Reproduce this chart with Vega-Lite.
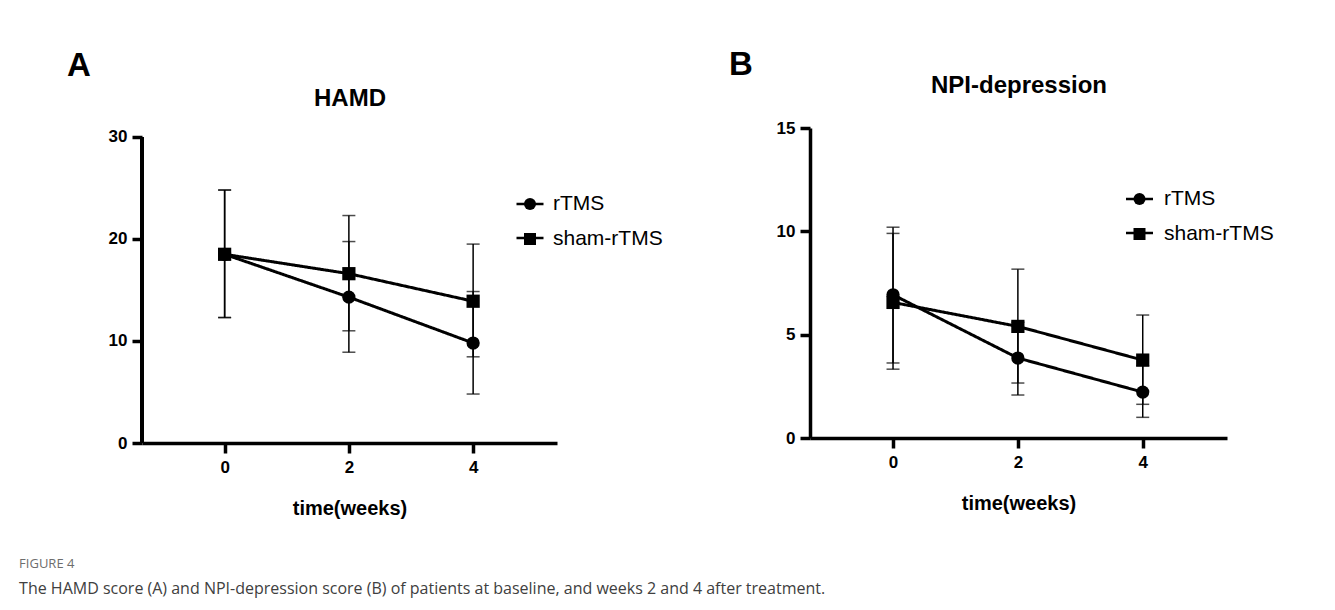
{
  "$schema": "https://vega.github.io/schema/vega-lite/v6.json",
  "padding": {"left": 19, "top": 49, "right": 5, "bottom": 5},
  "background": "white",
  "data": {
    "values": [
      {"panel": "HAMD", "group": "rTMS", "week": 0, "mean": 18.5, "lower": 12.3, "upper": 24.8},
      {"panel": "HAMD", "group": "rTMS", "week": 2, "mean": 14.3, "lower": 8.9, "upper": 19.75},
      {"panel": "HAMD", "group": "rTMS", "week": 4, "mean": 9.8, "lower": 4.8, "upper": 14.85},
      {"panel": "HAMD", "group": "sham-rTMS", "week": 0, "mean": 18.5, "lower": 12.3, "upper": 24.8},
      {"panel": "HAMD", "group": "sham-rTMS", "week": 2, "mean": 16.6, "lower": 11.0, "upper": 22.3},
      {"panel": "HAMD", "group": "sham-rTMS", "week": 4, "mean": 13.9, "lower": 8.45, "upper": 19.5},
      {"panel": "NPI", "group": "rTMS", "week": 0, "mean": 6.93, "lower": 3.63, "upper": 10.2},
      {"panel": "NPI", "group": "rTMS", "week": 2, "mean": 3.87, "lower": 2.08, "upper": 5.6},
      {"panel": "NPI", "group": "rTMS", "week": 4, "mean": 2.22, "lower": 1.0, "upper": 3.5},
      {"panel": "NPI", "group": "sham-rTMS", "week": 0, "mean": 6.56, "lower": 3.33, "upper": 9.9},
      {"panel": "NPI", "group": "sham-rTMS", "week": 2, "mean": 5.4, "lower": 2.66, "upper": 8.17},
      {"panel": "NPI", "group": "sham-rTMS", "week": 4, "mean": 3.77, "lower": 1.63, "upper": 5.95}
    ]
  },
  "title": {
    "text": "FIGURE 4",
    "subtitle": "The HAMD score (A) and NPI-depression score (B) of patients at baseline, and weeks 2 and 4 after treatment.",
    "orient": "bottom",
    "anchor": "start",
    "frame": "bounds",
    "dx": -48,
    "offset": 40,
    "font": "Open Sans",
    "fontSize": 13,
    "fontWeight": "normal",
    "color": "#6d6d6d",
    "subtitleFont": "Open Sans",
    "subtitleFontSize": 16,
    "subtitleColor": "#404040",
    "subtitlePadding": 10
  },
  "spacing": 65,
  "resolve": {"scale": {"shape": "independent", "strokeDash": "independent"}, "legend": {"shape": "independent", "strokeDash": "independent"}},
  "hconcat": [
    {
      "title": {"text": "A", "anchor": "start", "frame": "bounds", "font": "Liberation Sans", "fontSize": 33, "fontWeight": "bold", "color": "black", "baseline": "alphabetic", "dx": -41, "offset": -23.2},
      "width": 415,
      "height": 315,
      "transform": [{"filter": "datum.panel === 'HAMD'"}],
      "encoding": {
        "x": {"field": "week", "type": "quantitative", "scale": {"domain": [-1.33, 5.35], "nice": false, "zero": false}, "axis": {"values": [0, 2, 4], "title": "time(weeks)", "labelFlush": false}}
      },
      "layer": [
        {
          "mark": {"type": "rule", "color": "black", "strokeWidth": 3.5},
          "encoding": {
            "x": {"datum": -1.33, "type": "quantitative"},
            "y": {"datum": 0, "type": "quantitative", "scale": {"domain": [0, 30.882], "nice": false}, "axis": {"values": [0, 10, 20, 30], "title": "HAMD", "titleX": 207.5, "titleY": -23, "labelFlush": false, "domain": false}},
            "y2": {"datum": 30}
          }
        },
        {
          "mark": {"type": "rule", "color": "black", "strokeWidth": 1.5},
          "encoding": {
            "y": {"field": "lower", "type": "quantitative", "scale": {"domain": [0, 30.882], "nice": false}, "axis": {"values": [0, 10, 20, 30], "title": "HAMD", "titleX": 207.5, "titleY": -23, "labelFlush": false, "domain": false}},
            "y2": {"field": "upper"},
            "detail": {"field": "group"}
          }
        },
        {
          "mark": {"type": "tick", "orient": "horizontal", "color": "black", "thickness": 1.5, "size": 13},
          "encoding": {
            "y": {"field": "lower", "type": "quantitative", "scale": {"domain": [0, 30.882], "nice": false}, "axis": {"values": [0, 10, 20, 30], "title": "HAMD", "titleX": 207.5, "titleY": -23, "labelFlush": false, "domain": false}},
            "detail": {"field": "group"}
          }
        },
        {
          "mark": {"type": "tick", "orient": "horizontal", "color": "black", "thickness": 1.5, "size": 13},
          "encoding": {
            "y": {"field": "upper", "type": "quantitative", "scale": {"domain": [0, 30.882], "nice": false}, "axis": {"values": [0, 10, 20, 30], "title": "HAMD", "titleX": 207.5, "titleY": -23, "labelFlush": false, "domain": false}},
            "detail": {"field": "group"}
          }
        },
        {
          "mark": {"type": "line", "color": "black", "strokeWidth": 3},
          "encoding": {
            "y": {"field": "mean", "type": "quantitative", "scale": {"domain": [0, 30.882], "nice": false}, "axis": {"values": [0, 10, 20, 30], "title": "HAMD", "titleX": 207.5, "titleY": -23, "labelFlush": false, "domain": false}},
            "strokeDash": {
              "field": "group", "type": "nominal",
              "scale": {"domain": ["sham-rTMS", "rTMS"], "range": [[1, 0], [1, 0]]},
              "legend": {
                "orient": "none", "legendX": 373, "legendY": 61, "title": null,
                "labelExpr": "''", "labelFontSize": 30, "rowPadding": 4,
                "symbolType": "stroke", "symbolSize": 729, "symbolStrokeWidth": 2.5, "symbolStrokeColor": "black", "symbolOpacity": 1
              }
            }
          }
        },
        {
          "mark": {"type": "point", "filled": true, "color": "black", "size": 175, "opacity": 1},
          "encoding": {
            "y": {"field": "mean", "type": "quantitative", "scale": {"domain": [0, 30.882], "nice": false}, "axis": {"values": [0, 10, 20, 30], "title": "HAMD", "titleX": 207.5, "titleY": -23, "labelFlush": false, "domain": false}},
            "shape": {
              "field": "group", "type": "nominal",
              "scale": {"domain": ["rTMS", "sham-rTMS"], "range": ["circle", "square"]},
              "legend": {
                "orient": "none", "legendX": 377.5, "legendY": 65.5, "title": null,
                "labelFont": "Liberation Sans", "labelFontSize": 21, "labelColor": "black", "labelOffset": 12.5, "rowPadding": 13,
                "symbolSize": 144, "symbolFillColor": "black", "symbolOpacity": 1
              }
            }
          }
        }
      ]
    },
    {
      "title": {"text": "B", "anchor": "start", "frame": "bounds", "font": "Liberation Sans", "fontSize": 33, "fontWeight": "bold", "color": "black", "baseline": "alphabetic", "dx": -47, "offset": -35.2},
      "width": 417,
      "height": 310,
      "transform": [{"filter": "datum.panel === 'NPI'"}],
      "encoding": {
        "x": {"field": "week", "type": "quantitative", "scale": {"domain": [-1.33, 5.35], "nice": false, "zero": false}, "axis": {"values": [0, 2, 4], "title": "time(weeks)", "labelFlush": false}}
      },
      "layer": [
        {
          "mark": {"type": "rule", "color": "black", "strokeWidth": 1.5},
          "encoding": {
            "y": {"field": "lower", "type": "quantitative", "scale": {"domain": [0, 15], "nice": false}, "axis": {"values": [0, 5, 10, 15], "title": "NPI-depression", "titleX": 208.5, "titleY": -36, "labelFlush": false}},
            "y2": {"field": "upper"},
            "detail": {"field": "group"}
          }
        },
        {
          "mark": {"type": "tick", "orient": "horizontal", "color": "black", "thickness": 1.5, "size": 13},
          "encoding": {
            "y": {"field": "lower", "type": "quantitative", "scale": {"domain": [0, 15], "nice": false}, "axis": {"values": [0, 5, 10, 15], "title": "NPI-depression", "titleX": 208.5, "titleY": -36, "labelFlush": false}},
            "detail": {"field": "group"}
          }
        },
        {
          "mark": {"type": "tick", "orient": "horizontal", "color": "black", "thickness": 1.5, "size": 13},
          "encoding": {
            "y": {"field": "upper", "type": "quantitative", "scale": {"domain": [0, 15], "nice": false}, "axis": {"values": [0, 5, 10, 15], "title": "NPI-depression", "titleX": 208.5, "titleY": -36, "labelFlush": false}},
            "detail": {"field": "group"}
          }
        },
        {
          "mark": {"type": "line", "color": "black", "strokeWidth": 3},
          "encoding": {
            "y": {"field": "mean", "type": "quantitative", "scale": {"domain": [0, 15], "nice": false}, "axis": {"values": [0, 5, 10, 15], "title": "NPI-depression", "titleX": 208.5, "titleY": -36, "labelFlush": false}},
            "strokeDash": {
              "field": "group", "type": "nominal",
              "scale": {"domain": ["sham-rTMS", "rTMS"], "range": [[1, 0], [1, 0]]},
              "legend": {
                "orient": "none", "legendX": 314.5, "legendY": 56, "title": null,
                "labelExpr": "''", "labelFontSize": 30, "rowPadding": 4,
                "symbolType": "stroke", "symbolSize": 729, "symbolStrokeWidth": 2.5, "symbolStrokeColor": "black", "symbolOpacity": 1
              }
            }
          }
        },
        {
          "mark": {"type": "point", "filled": true, "color": "black", "size": 175, "opacity": 1},
          "encoding": {
            "y": {"field": "mean", "type": "quantitative", "scale": {"domain": [0, 15], "nice": false}, "axis": {"values": [0, 5, 10, 15], "title": "NPI-depression", "titleX": 208.5, "titleY": -36, "labelFlush": false}},
            "shape": {
              "field": "group", "type": "nominal",
              "scale": {"domain": ["rTMS", "sham-rTMS"], "range": ["circle", "square"]},
              "legend": {
                "orient": "none", "legendX": 319, "legendY": 60.5, "title": null,
                "labelFont": "Liberation Sans", "labelFontSize": 21, "labelColor": "black", "labelOffset": 14, "rowPadding": 13,
                "symbolSize": 144, "symbolFillColor": "black", "symbolOpacity": 1
              }
            }
          }
        }
      ]
    }
  ],
  "config": {
    "view": {"stroke": null},
    "font": "Liberation Sans",
    "axis": {
      "domainColor": "black", "domainWidth": 3.5, "tickColor": "black", "tickWidth": 3.5, "tickSize": 10,
      "labelFont": "Liberation Sans", "labelFontSize": 17, "labelFontWeight": "bold", "labelColor": "black",
      "grid": false, "titleFont": "Liberation Sans", "titleFontWeight": "bold", "titleColor": "black"
    },
    "axisX": {"labelPadding": 6, "titlePadding": 23, "titleFontSize": 20},
    "axisY": {"labelPadding": 5, "titleFontSize": 24, "titleAngle": 0, "titleAlign": "center", "titleBaseline": "alphabetic"}
  }
}
